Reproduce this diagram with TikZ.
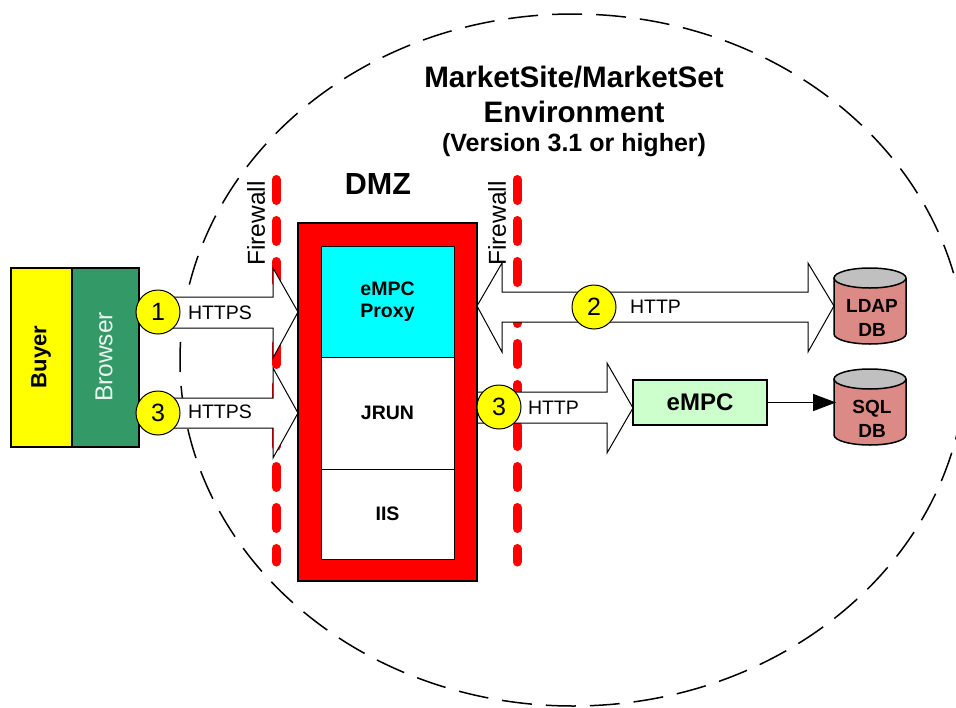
\documentclass[tikz,border=0pt]{standalone}
\usepackage{fontspec}
\usetikzlibrary{arrows.meta,shapes.geometric}
\setmainfont{Liberation Sans}
\newcommand{\pxf}[1]{\fontsize{#1}{#1}\selectfont}
\definecolor{dbred}{RGB}{219,138,133}
\definecolor{dbgray}{RGB}{192,192,192}
\definecolor{browsergreen}{RGB}{51,153,102}
\definecolor{paleg}{RGB}{204,255,204}
\definecolor{pureyellow}{RGB}{255,255,0}
\definecolor{purered}{RGB}{255,0,0}
\definecolor{purecyan}{RGB}{0,255,255}
\tikzset{
  x=1pt,y=-1pt,
  every node/.style={inner sep=0pt,outer sep=0pt,align=center},
  boundary/.style={draw=black,line width=1.5pt,dash pattern=on 30pt off 14pt},
  firewall/.style={draw=purered,line width=9pt,line cap=round,dash pattern=on 21pt off 20pt},
  fwlabel/.style={rotate=90,font=\pxf{24.5}},
  blockarrow/.style={draw=black,fill=white,line width=1pt,line join=miter},
  badge/.style={circle,draw=black,fill=pureyellow,line width=1pt,minimum size=44pt,font=\pxf{25}},
  proto/.style={font=\pxf{19.5},anchor=west},
  tier/.style={draw=black,line width=1pt,minimum width=133pt,font=\bfseries\pxf{19.5}},
  cyl/.style={draw=black,line width=1.5pt,fill=dbred},
  cyltop/.style={draw=black,line width=1.5pt,fill=dbgray},
  dblabel/.style={font=\bfseries\pxf{19},minimum width=72pt,minimum height=50pt}
}
\begin{document}
\begin{tikzpicture}
\useasboundingbox (0,0) rectangle (956,707);
\clip (0,0) rectangle (956,707);
% environment boundary
\node[ellipse,boundary,minimum width=786pt,minimum height=692pt] (env) at (573,360) {};
% firewalls
\coordinate (fwLtop) at (276,179.5);
\coordinate (fwLbot) at (276,562);
\coordinate (fwRtop) at (517,179.5);
\coordinate (fwRbot) at (517,562);
\draw[firewall] (fwLtop) -- (fwLbot);
\draw[firewall] (fwRtop) -- (fwRbot);
% titles
\node[font=\bfseries\pxf{29.6}] (title1) at (574,77) {MarketSite/MarketSet};
\node[font=\bfseries\pxf{29.6}] (title2) at (574,112) {Environment};
\node[font=\bfseries\pxf{25}] (title3) at (574,145) {(Version 3.1 or higher)};
\node[font=\bfseries\pxf{30.5}] (dmz) at (378,184) {DMZ};
% buyer
\node[draw=black,fill=pureyellow,line width=1.5pt,minimum width=61pt,minimum height=179pt] (buyer) at (41.5,357.5) {};
\node[rotate=90,font=\bfseries\pxf{22}] (buyertxt) at (41,357) {Buyer};
\node[draw=black,fill=browsergreen,line width=1.5pt,minimum width=67pt,minimum height=179pt] (browser) at (105.5,357.5) {};
\node[rotate=90,font=\pxf{24.5},text=white!90!browsergreen] (browsertxt) at (104,357) {Browser};
% block arrows
\draw[blockarrow] (165,297) -- (273,297) -- (273,268) -- (298,312) -- (273,358) -- (273,328) -- (165,328) -- cycle;
\draw[blockarrow] (165,398) -- (273,398) -- (273,368) -- (298,413) -- (273,458) -- (273,428) -- (165,428) -- cycle;
\draw[blockarrow] (477,306) -- (502,263) -- (502,292) -- (808,292) -- (808,263) -- (834,306) -- (808,352) -- (808,322) -- (502,322) -- (502,352) -- cycle;
\draw[blockarrow] (477,392) -- (607,392) -- (607,363) -- (633,408) -- (607,453) -- (607,423) -- (477,423) -- cycle;
% firewall labels
\node[fwlabel] (fw1) at (256,223.5) {Firewall};
\node[fwlabel] (fw2) at (497,223.5) {Firewall};
% DMZ box
\node[draw=black,fill=purered,line width=1.5pt,minimum width=179pt,minimum height=358pt] (dmzbox) at (387.5,402) {};
\node[tier,fill=purecyan,minimum height=111pt] (proxy) at (387.5,301.5) {eMPC\\[2pt]Proxy};
\node[tier,fill=white,minimum height=112pt] (jrun) at (387.5,413) {JRUN};
\node[tier,fill=white,minimum height=90pt] (iis) at (387.5,514) {IIS};
% badges
\node[badge] (b1) at (158,312) {1};
\node[badge] (b3a) at (158,413) {3};
\node[badge] (b2) at (594,307) {2};
\node[badge] (b3b) at (499,407) {3};
% protocol labels
\node[proto] (p1) at (188,312.5) {HTTPS};
\node[proto] (p2) at (188,412) {HTTPS};
\node[proto] (p3) at (630,306.5) {HTTP};
\node[proto] (p4) at (528,407.5) {HTTP};
% databases
\draw[cyl] (834,278) -- (834,334) arc [start angle=180,end angle=360,x radius=36,y radius=-10] -- (906,278);
\draw[cyltop] (870,278) ellipse [x radius=36,y radius=10];
\node[dblabel] (ldap) at (872,318) {LDAP\\[5pt]DB};
\draw[cyl] (834,379) -- (834,435) arc [start angle=180,end angle=360,x radius=36,y radius=-10] -- (906,379);
\draw[cyltop] (870,379) ellipse [x radius=36,y radius=10];
\node[dblabel] (sql) at (872,419) {SQL\\[5pt]DB};
% eMPC
\node[draw=black,fill=paleg,line width=1.5pt,minimum width=134pt,minimum height=45pt,font=\bfseries\pxf{24}] (empc) at (700,402.5) {eMPC};
\draw[-{Triangle[length=23pt,width=17pt]},line width=1.5pt,black] (empc.east) -- (sql.west |- empc.east);
\end{tikzpicture}
\end{document}
